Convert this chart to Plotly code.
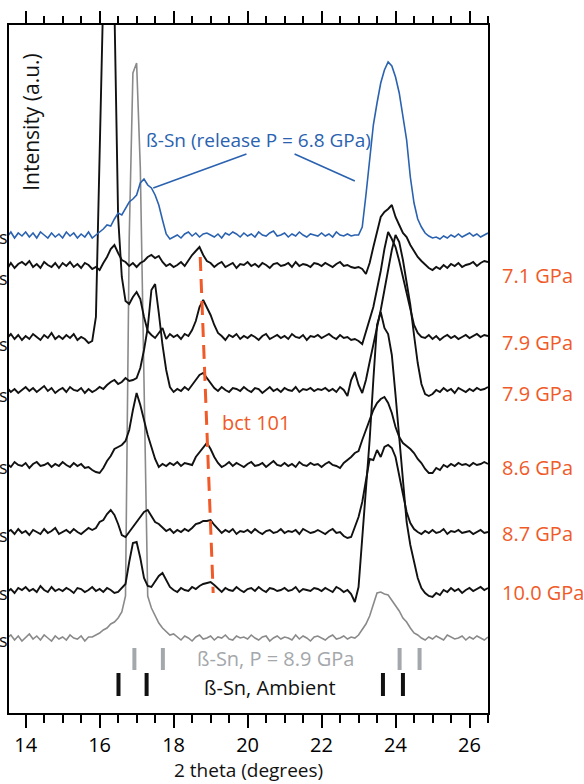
import numpy as np
import plotly.graph_objects as go

# 2-theta sampling grid (degrees)
two_theta = np.round(np.arange(135, 266) / 10, 1)

# Diffraction intensities (a.u.) above each pattern's own baseline
blue_release = [-2, 3, -3, 2, -1,
    3, -2, 2, -3, 3, 0, -3, 2, -2, 1,
    -3, 3, -1, 2, -3, 1, -2, 3, -3, 0,
    3, 6, 10, 9, 16, 22, 20, 27, 33, 36,
    40, 52, 56, 50, 47, 40, 30, 15, 1, -4,
    -2, 0, -3, 1, 3, -1, 2, -2, 1, 2,
    0, -2, 1, -3, 2, 0, 3, 1, -2, 2,
    -1, 1, -2, 3, 0, -1, 2, 4, -1, 0,
    2, -2, 1, -1, 3, 0, -2, 1, 0, -1,
    2, -1, 1, -2, 3, 0, -1, 1, -1, 0,
    0, 8, 40, 78, 110, 132, 152, 165, 173, 169,
    158, 142, 118, 95, 58, 32, 16, 8, 2, -1,
    -3, -2, -4, -1, -3, 0, -2, 1, -2, 0,
    2, -1, 1, -2, 0, 2]

p_7_1 = [-4, 2, -3, 1, 3,
    0, 4, -2, 1, -3, 3, 0, -2, 2, -3,
    2, -1, 3, -2, 1, -3, 2, 0, -4, -2,
    -5, 2, 8, 16, 20, 12, 5, 3, -1, 2,
    -2, 2, 4, 8, 10, 7, 9, 3, -1, 1,
    -2, 0, 3, -1, 5, 10, 14, 18, 10, 4,
    2, -2, 1, 3, -2, 0, 2, -3, 1, 0,
    3, -1, 1, -2, 2, 0, -3, 1, 2, -1,
    0, 2, -2, 3, -1, 1, 0, -2, 2, 1,
    -1, 2, 0, -2, 1, 3, -1, 0, -2, -3,
    -2, -4, -9, 2, 18, 34, 48, 53, 56, 60,
    48, 40, 32, 28, 20, 14, 8, 4, 0, -3,
    -5, -2, -4, 0, -3, 1, -1, 2, -2, 0,
    1, 3, -1, 2, 4, 3]

p_7_9a = [-1, 3, -2, 2, -3,
    1, -2, 3, 0, -3, 2, -1, 4, -2, 1,
    -2, 2, -1, 3, -3, 0, -2, -6, -4, 20,
    190, 345, 430, 430, 330, 120, 60, 36, 33, 40,
    45, 38, 20, 6, 2, -1, 4, 9, -2, 3,
    0, 2, -2, 3, 1, 7, 16, 30, 37, 30,
    22, 12, 4, 1, -3, 2, 0, 3, -2, 1,
    -1, 2, 0, -3, 1, 3, -2, 0, 2, -1,
    1, -2, 3, 0, -1, 2, -3, 1, 0, 2,
    -1, 1, 3, 0, -2, 2, -1, 0, -3, -2,
    -4, -7, 5, 18, 30, 48, 66, 88, 105, 98,
    90, 76, 60, 42, 26, 12, 4, 0, -1, 2,
    -2, 1, -3, 0, 2, -1, 1, -2, 0, 2,
    -1, 1, 3, 0, 2, 1]

p_7_9b = [2, -2, 1, -3, 0,
    3, -1, 2, -2, 1, 4, -1, 2, -3, 0,
    2, -2, 3, 0, -1, 2, -3, 1, -2, 0,
    3, 1, 5, 8, 10, 6, 8, 12, 9, 10,
    12, 22, 40, 62, 100, 106, 77, 45, 20, 3,
    -2, 1, -1, 3, 0, 5, 10, 15, 17, 12,
    6, 2, -1, 3, 0, -2, 2, 1, -1, 3,
    0, -2, 2, 1, -3, 0, 3, -1, 1, -2,
    2, 0, -1, 3, -2, 1, 0, 2, -1, 1,
    0, 2, -1, 1, -2, 3, 0, -6, 10, 18,
    5, -3, 10, 28, 45, 62, 80, 100, 120, 140,
    155, 148, 130, 108, 85, 55, 27, 6, -4, -6,
    -4, 0, -2, 2, -1, 1, -3, 2, 0, -2,
    1, -1, 2, 0, 1, 3]

p_8_6 = [1, -2, 3, 0, -1,
    2, -3, 1, 3, -1, 0, 2, -2, 1, -1,
    3, 0, -2, 2, -1, 1, -3, -2, -5, -7,
    -8, -3, 4, 9, 16, 18, 20, 24, 35, 55,
    72, 60, 44, 30, 18, 6, -2, 1, -1, 2,
    0, 3, -1, 2, 1, 0, 8, 13, 18, 22,
    16, 8, 2, -2, 0, 3, -1, 2, 0, -2,
    1, 3, -1, 0, 2, -2, 1, 4, 0, -1,
    2, -1, 1, -2, 3, 0, -1, 2, 0, 1,
    -2, 1, 3, 0, -1, -3, 2, 5, 8, 12,
    14, 25, 35, 45, 55, 62, 66, 68, 62, 52,
    38, 28, 22, 19, 16, 12, 6, 2, -4, -8,
    -8, -3, -5, 0, -2, 1, -1, 2, 0, 1,
    -1, 2, 0, 1, 3, 1]

p_8_7 = [0, 2, -2, 3, -1,
    1, -3, 2, 0, -2, 3, -1, 1, 4, -2,
    0, 2, -1, 3, 0, -2, 1, 4, 2, 4,
    10, 12, 18, 22, 17, 8, -3, -5, 0, 5,
    9, 14, 20, 22, 16, 10, 8, 4, 1, 3,
    -1, 2, 0, 3, 1, 4, 8, 9, 11, 11,
    12, 7, 3, -1, 2, 0, 3, -2, 1, 0,
    2, -1, 3, 0, -2, 1, 2, -1, 0, 3,
    -1, 1, 0, 2, -2, 3, 1, -1, 0, 2,
    0, -2, 1, 3, -1, 0, -4, -6, -5, 5,
    15, 30, 52, 73, 72, 82, 75, 85, 87, 84,
    75, 58, 38, 20, 9, 3, 0, -2, 1, -1,
    2, -1, 0, 3, -2, 1, 0, 2, -1, 0,
    1, -2, 0, 2, -1, 0]

p_10_0 = [-2, 1, -3, 2, 0,
    3, -1, 1, -2, 4, 0, -2, 3, -1, 1,
    -1, 2, 0, -3, 2, 1, -2, 0, 3, -1,
    1, -2, 2, 0, -3, -2, 2, 6, 28, 47,
    48, 32, 12, 4, 3, 8, 14, 17, 10, 3,
    0, -2, 2, 0, -1, 3, 1, 4, 6, 7,
    8, 5, 1, -2, 2, 0, -1, 3, 0, -2,
    1, 2, -1, 3, 0, -2, 2, 1, -1, 0,
    2, -1, 0, 3, -2, 1, 0, -1, 2, 1,
    -1, 2, 0, -2, 3, 1, -2, 0, -4, -12,
    3, 50, 100, 150, 210, 265, 278, 262, 256, 235,
    195, 150, 108, 68, 45, 30, 12, 2, -3, -6,
    -7, -3, -5, 0, -2, 2, -1, 1, -3, 0,
    2, -1, 1, 3, 0, 2]

gray_8_9 = [0, 3, -2, 2, -3,
    1, 4, -1, 2, -2, 3, 0, -3, 2, -1,
    1, -2, 3, 0, -1, 2, -3, 1, 1, 3,
    5, 8, 10, 14, 16, 20, 26, 42, 400, 565,
    575, 470, 240, 42, 30, 22, 15, 10, 6, 3,
    4, 1, -2, 2, 0, -3, 1, 3, -1, 0,
    2, -2, 1, 0, 3, -1, -2, 2, 0, 1,
    -1, 3, 0, -2, 1, 2, -3, 0, 2, -1,
    1, 0, -2, 3, -1, 2, 0, -3, 1, 2,
    0, -2, 1, 3, -1, 0, 2, -1, 1, 0,
    3, 8, 14, 22, 33, 45, 46, 44, 43, 38,
    32, 27, 20, 16, 10, 5, 3, 0, -2, 1,
    -1, 2, 0, -2, 3, 1, -1, 0, 2, -2,
    1, -1, 2, 0, -2, 1]

# Stacking offsets of the patterns (a.u.)
offsets = {"release": 478, "7.1": 448, "7.9a": 376, "7.9b": 323,
           "8.6": 248, "8.7": 181, "10.0": 123, "ambient_hp": 75}

pressure_labels = ["7.1 GPa", "7.9 GPa", "7.9 GPa", "8.6 GPa", "8.7 GPa", "10.0 GPa"]

# Reference reflections of beta-Sn (2 theta, degrees)
sn_hp_refl = [16.94, 17.71, 24.11, 24.65]      # P = 8.9 GPa
sn_amb_refl = [16.51, 17.27, 23.66, 24.20]     # ambient

BLACK = "#111111"
BLUE = "#2a62b0"
GRAY = "#8a8a8a"
LIGHTGRAY = "#a4a7ab"
ORANGE = "#f05a28"
FONT = "Open Sans"

fig = go.Figure()

def add_pattern(values, offset, color, width):
    fig.add_trace(go.Scatter(
        x=two_theta, y=np.asarray(values) + offset, mode="lines",
        line=dict(color=color, width=width), hoverinfo="skip"))

add_pattern(gray_8_9, offsets["ambient_hp"], GRAY, 1.6)
add_pattern(p_10_0, offsets["10.0"], BLACK, 1.9)
add_pattern(p_8_7, offsets["8.7"], BLACK, 1.9)
add_pattern(p_8_6, offsets["8.6"], BLACK, 1.9)
add_pattern(p_7_9b, offsets["7.9b"], BLACK, 1.9)
add_pattern(p_7_9a, offsets["7.9a"], BLACK, 1.9)
add_pattern(p_7_1, offsets["7.1"], BLACK, 1.9)
add_pattern(blue_release, offsets["release"], BLUE, 1.6)

# reflection markers
def refl_marks(positions, y0, y1, color):
    xs, ys = [], []
    for p in positions:
        xs += [p, p, None]
        ys += [y0, y1, None]
    fig.add_trace(go.Scatter(x=xs, y=ys, mode="lines",
                             line=dict(color=color, width=4), hoverinfo="skip"))

refl_marks(sn_hp_refl, 43, 65, LIGHTGRAY)
refl_marks(sn_amb_refl, 17, 40, BLACK)

# helper trace for the top axis
fig.add_trace(go.Scatter(x=[20], y=[0], xaxis="x2", mode="markers",
                         marker=dict(opacity=0), hoverinfo="skip"))

# leader lines and the bct 101 guide
fig.add_shape(type="line", x0=19.97, y0=559, x1=17.45, y1=525,
              line=dict(color=BLUE, width=1.6))
fig.add_shape(type="line", x0=21.27, y0=559, x1=22.9, y1=532,
              line=dict(color=BLUE, width=1.6))
fig.add_shape(type="line", x0=18.72, y0=456, x1=19.07, y1=120,
              line=dict(color=ORANGE, width=3, dash="14px,8px"))

ann = []
ann.append(dict(x=20.29, y=573, text="ß-Sn (release P = 6.8 GPa)",
                font=dict(color=BLUE, size=19, family=FONT)))
ann.append(dict(x=20.22, y=291, text="bct 101",
                font=dict(color=ORANGE, size=20, family=FONT)))
ann.append(dict(x=20.75, y=55, text="ß-Sn, P = 8.9 GPa",
                font=dict(color=LIGHTGRAY, size=20, family=FONT)))
ann.append(dict(x=20.61, y=26, text="ß-Sn, Ambient",
                font=dict(color=BLACK, size=20, family=FONT)))
ann.append(dict(x=14.14, y=591, text="Intensity (a.u.)", textangle=-90,
                font=dict(color=BLACK, size=21, family=FONT)))
for a in ann:
    a.update(xref="x", yref="y", showarrow=False, xanchor="center", yanchor="middle")

keys = ["7.1", "7.9a", "7.9b", "8.6", "8.7", "10.0"]
nudge = [-10, -5, -3, -2, -1, -2]
for lab, k, d in zip(pressure_labels, keys, nudge):
    ann.append(dict(x=1.025, y=offsets[k] + d, xref="paper", yref="y",
                    text=lab, showarrow=False, xanchor="left", yanchor="middle",
                    font=dict(color=ORANGE, size=20, family=FONT)))

# trailing unit letters at the left edge of each pattern
side_keys = ["release", "7.1", "7.9a", "7.9b", "8.6", "8.7", "10.0", "ambient_hp"]
side_nudge = [-2, -13, -7, -5, -2, -3, -3, -2]
for k, d in zip(side_keys, side_nudge):
    ann.append(dict(x=-0.001, y=offsets[k] + d, xref="paper", yref="y",
                    text="s", showarrow=False, xanchor="right", yanchor="middle",
                    borderpad=0, font=dict(color=BLACK, size=18, family=FONT)))

ann.append(dict(x=0.5, y=-0.0828, xref="paper", yref="paper",
                text="2 theta (degrees)", showarrow=False,
                xanchor="center", yanchor="middle", borderpad=0,
                font=dict(color=BLACK, size=19, family=FONT)))

xr = [13.55, 26.5]
tick_style = dict(tickmode="linear", tick0=14, dtick=2, ticks="outside",
                  ticklen=13, tickwidth=1.5, tickcolor="black",
                  minor=dict(tick0=14, dtick=0.5, ticks="outside", ticklen=8,
                             tickwidth=1.5, tickcolor="black", showgrid=False),
                  showgrid=False, zeroline=False)

fig.update_layout(
    width=584, height=784,
    margin=dict(l=9, r=96, t=25, b=71),
    paper_bgcolor="white", plot_bgcolor="white",
    showlegend=False,
    annotations=ann,
    xaxis=dict(range=xr, showline=True, linecolor="black", linewidth=1.5,
               mirror=True, tickfont=dict(family=FONT, size=20, color="black"),
               **tick_style),
    xaxis2=dict(range=xr, overlaying="x", side="top", showticklabels=False,
                showline=False, **tick_style),
    yaxis=dict(range=[0, 688], showticklabels=False, ticks="", showline=True,
               linecolor="black", linewidth=1.5, mirror=True,
               showgrid=False, zeroline=False),
)

fig.write_html("out.html")
